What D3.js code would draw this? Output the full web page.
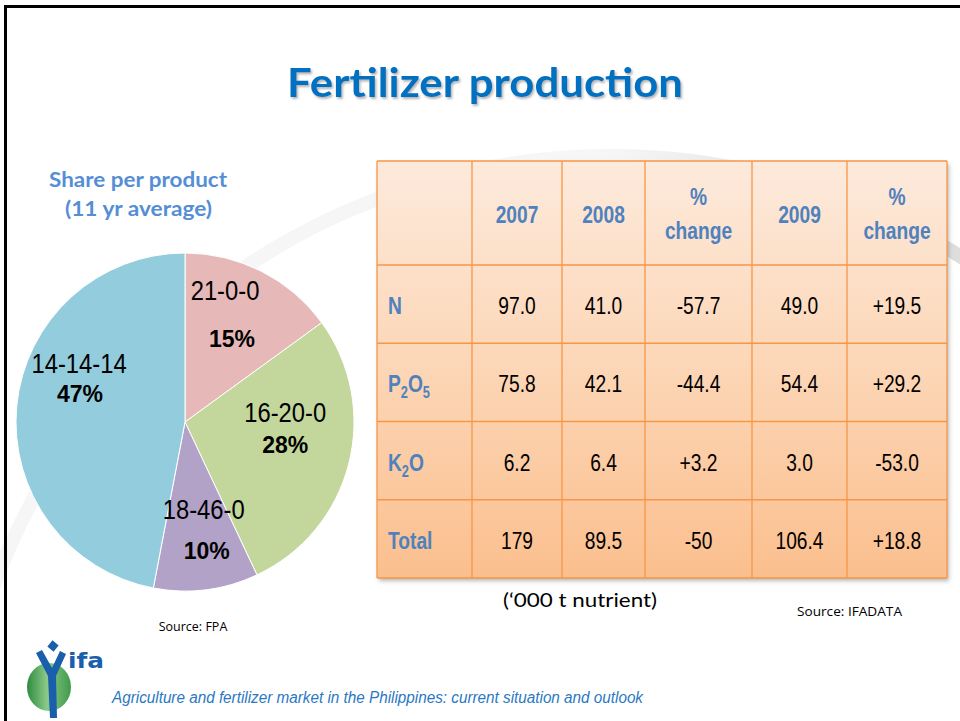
<!DOCTYPE html>
<html>
<head>
<meta charset="utf-8">
<script src="https://cdn.jsdelivr.net/npm/d3@7"></script>
<style>
  html, body { margin: 0; padding: 0; background: #fff; }
  svg { display: block; }
</style>
</head>
<body>
<svg id="slide" width="960" height="721"></svg>
<script>
// share per product, 11 yr average (%)
const products = ['21-0-0', '16-20-0', '18-46-0', '14-14-14'];
const shares = [15, 28, 10, 47];

// production table ('000 t nutrient)
const headers = ['2007', '2008', '% change', '2009', '% change'];
const nutrients = ['N', 'P2O5', 'K2O', 'Total'];
const prod2007 = ['97.0', '75.8', '6.2', '179'];
const prod2008 = ['41.0', '42.1', '6.4', '89.5'];
const change0708 = ['-57.7', '-44.4', '+3.2', '-50'];
const prod2009 = ['49.0', '54.4', '3.0', '106.4'];
const change0809 = ['+19.5', '+29.2', '-53.0', '+18.8'];

const svg = d3.select('#slide');
const defs = svg.append('defs');

/* defs: gradients + shadows */
const arcGrad = defs.append('linearGradient').attr('id', 'arcGrad')
  .attr('gradientUnits', 'userSpaceOnUse').attr('x1', 0).attr('y1', 0).attr('x2', 960).attr('y2', 0);
[[0, '#f6f6f6'], [0.25, '#dedede'], [0.6, '#dcdcdc'], [1, '#e6e8f1']].forEach(s =>
  arcGrad.append('stop').attr('offset', s[0]).attr('stop-color', s[1]));

const tblGrad = defs.append('linearGradient').attr('id', 'tblGrad')
  .attr('x1', 0).attr('y1', 0).attr('x2', 0).attr('y2', 1);
[[0, '#fdeadc'], [0.5, '#fcd6b6'], [1, '#fbbf8e']].forEach(s =>
  tblGrad.append('stop').attr('offset', s[0]).attr('stop-color', s[1]));

const greenGrad = defs.append('linearGradient').attr('id', 'greenGrad')
  .attr('x1', 0).attr('y1', 0).attr('x2', 1).attr('y2', 0);
[[0, '#2e8b3e'], [0.45, '#8cc98a'], [1, '#3f9a4a']].forEach(s =>
  greenGrad.append('stop').attr('offset', s[0]).attr('stop-color', s[1]));

defs.append('filter').attr('id', 'titleShadow')
  .attr('x', '-5%').attr('y', '-20%').attr('width', '110%').attr('height', '150%')
  .append('feDropShadow').attr('dx', 1.5).attr('dy', 2).attr('stdDeviation', 1)
  .attr('flood-color', '#777').attr('flood-opacity', 0.55);

defs.append('filter').attr('id', 'tblShadow')
  .attr('x', '-5%').attr('y', '-5%').attr('width', '110%').attr('height', '110%')
  .append('feDropShadow').attr('dx', 2).attr('dy', 3).attr('stdDeviation', 2)
  .attr('flood-color', '#888').attr('flood-opacity', 0.6);

/* background swoosh */
svg.append('path')
  .attr('transform', 'translate(611,814)')
  .attr('d', d3.arc()({ innerRadius: 651, outerRadius: 665, startAngle: -1.29, endAngle: 0.72 }))
  .attr('fill', 'url(#arcGrad)');

/* slide frame */
svg.append('path').attr('d', 'M5.5,721 V6.5 H960')
  .attr('fill', 'none').attr('stroke', '#000').attr('stroke-width', 3);

/* title */
svg.append('text')
  .attr('x', 287).attr('y', 97)
  .attr('textLength', 396).attr('lengthAdjust', 'spacingAndGlyphs')
  .attr('font-family', 'Lato, "Open Sans", sans-serif').attr('font-weight', 700)
  .attr('font-size', '40px').attr('fill', '#0070c0')
  .attr('filter', 'url(#titleShadow)')
  .text('Fertilizer production');

/* ---------- pie ---------- */
const pieData = products.map((p, i) => ({ product: p, share: shares[i] }));
const cx = 185, cy = 422, R = 169;
const color = d3.scaleOrdinal().domain(products)
  .range(['#e6b9b8', '#c3d69b', '#b3a2c7', '#93cddd']);

svg.append('text')
  .attr('x', 49).attr('y', 187)
  .attr('textLength', 178).attr('lengthAdjust', 'spacingAndGlyphs')
  .attr('font-family', 'Lato, sans-serif').attr('font-weight', 700)
  .attr('font-size', '20px').attr('fill', '#558ed5')
  .text('Share per product');
svg.append('text')
  .attr('x', 65).attr('y', 216)
  .attr('textLength', 147).attr('lengthAdjust', 'spacingAndGlyphs')
  .attr('font-family', 'Lato, sans-serif').attr('font-weight', 700)
  .attr('font-size', '20px').attr('fill', '#558ed5')
  .text('(11 yr average)');

const pie = d3.pie().sort(null).value(d => d.share);
const arc = d3.arc().innerRadius(0).outerRadius(R);
const labelArc = d3.arc().innerRadius(R * 0.6).outerRadius(R * 0.6);
const arcs = pie(pieData);

const gPie = svg.append('g').attr('transform', `translate(${cx},${cy})`);
gPie.selectAll('path.slice')
  .data(arcs).join('path')
  .attr('class', 'slice')
  .attr('d', arc)
  .attr('fill', d => color(d.data.product))
  .attr('stroke', '#fff').attr('stroke-width', 1);

// label nudges relative to slice centroid: [dxName, dyName, dxPct, dyPct]
const nudge = [[-6, -32, 1, 15], [2, -25, 2, 6], [6, -4, 9, 36], [-5, -39, -4, -10]];
arcs.forEach((d, i) => {
  const [x, y] = labelArc.centroid(d);
  const n = nudge[i];
  gPie.append('text')
    .attr('transform', `translate(${x + n[0]},${y + n[1]}) scale(0.88,1)`)
    .attr('text-anchor', 'middle')
    .attr('font-family', '"Liberation Sans", Arial, sans-serif')
    .attr('font-size', '27px').attr('fill', '#000')
    .text(d.data.product);
  gPie.append('text')
    .attr('x', x + n[2]).attr('y', y + n[3])
    .attr('text-anchor', 'middle')
    .attr('font-family', '"Liberation Sans", Arial, sans-serif')
    .attr('font-weight', 700).attr('font-size', '23px').attr('fill', '#000')
    .text(d.data.share + '%');
});

svg.append('text')
  .attr('x', 193).attr('y', 631).attr('text-anchor', 'middle')
  .attr('font-family', '"Open Sans", sans-serif').attr('font-size', '12.5px').attr('fill', '#000')
  .text('Source: FPA');

/* ---------- table ---------- */
const colKeys = ['label', 'c2007', 'c2008', 'chg1', 'c2009', 'chg2'];
const colEdges = [377, 472, 562, 645, 752, 847, 947];
const colLeft = d3.scaleOrdinal().domain(colKeys).range(colEdges.slice(0, 6));
const colRight = d3.scaleOrdinal().domain(colKeys).range(colEdges.slice(1));
const colMid = k => (colLeft(k) + colRight(k)) / 2;

const tblTop = 161, headH = 104, tblBottom = 578;
const rowY = d3.scaleBand().domain(nutrients).range([tblTop + headH, tblBottom]).padding(0);

const gT = svg.append('g');
gT.append('rect')
  .attr('x', colEdges[0]).attr('y', tblTop)
  .attr('width', colEdges[6] - colEdges[0]).attr('height', tblBottom - tblTop)
  .attr('fill', 'url(#tblGrad)')
  .attr('filter', 'url(#tblShadow)');

// grid lines
const lineColor = '#f79646';
gT.selectAll('line.v')
  .data(colEdges).join('line')
  .attr('x1', d => d).attr('x2', d => d)
  .attr('y1', tblTop).attr('y2', tblBottom)
  .attr('stroke', lineColor).attr('stroke-width', 1.3);
gT.selectAll('line.h')
  .data([tblTop].concat(nutrients.map(n => rowY(n))).concat([tblBottom])).join('line')
  .attr('class', 'h')
  .attr('x1', colEdges[0]).attr('x2', colEdges[6])
  .attr('y1', d => d).attr('y2', d => d)
  .attr('stroke', lineColor).attr('stroke-width', 1.3);

const narrow = '"Liberation Sans", Arial, sans-serif';
const headBlue = '#4f81bd';
const headMid = tblTop + headH / 2;

// header
headers.forEach((h, i) => {
  const k = colKeys[i + 1];
  if (h.startsWith('%')) {
    ['%', 'change'].forEach((t, j) => {
      gT.append('text')
        .attr('transform', `translate(${colMid(k)},${j === 0 ? headMid - 8 : headMid + 26}) scale(0.8,1)`)
        .attr('text-anchor', 'middle')
        .attr('font-family', narrow).attr('font-weight', 700)
        .attr('font-size', '24px').attr('fill', headBlue)
        .text(t);
    });
  } else {
    gT.append('text')
      .attr('transform', `translate(${colMid(k)},${headMid + 10}) scale(0.8,1)`)
      .attr('text-anchor', 'middle')
      .attr('font-family', narrow).attr('font-weight', 700)
      .attr('font-size', '24px').attr('fill', headBlue)
      .text(h);
  }
});

// row labels with subscripts
nutrients.forEach(n => {
  const y = rowY(n) + rowY.bandwidth() / 2 + 10;
  const t = gT.append('text')
    .attr('transform', `translate(${colLeft('label') + 11},${y}) scale(0.8,1)`)
    .attr('font-family', narrow).attr('font-weight', 700)
    .attr('font-size', '24px').attr('fill', headBlue);
  const parts = n.match(/[A-Za-z]+|\d/g);
  let sub = false;
  parts.forEach(p => {
    const isDigit = /\d/.test(p);
    const ts = t.append('tspan').text(p);
    if (isDigit && !sub) { ts.attr('dy', 6).attr('font-size', '16px'); sub = true; }
    else if (!isDigit && sub) { ts.attr('dy', -6); sub = false; }
    else if (isDigit) ts.attr('font-size', '16px');
  });
});

// values
const cols = [prod2007, prod2008, change0708, prod2009, change0809];
cols.forEach((vals, ci) => {
  const k = colKeys[ci + 1];
  gT.selectAll(null)
    .data(vals.map((v, ri) => ({ v, n: nutrients[ri] }))).join('text')
    .attr('transform', d => `translate(${colMid(k)},${rowY(d.n) + rowY.bandwidth() / 2 + 10}) scale(0.8,1)`)
    .attr('text-anchor', 'middle')
    .attr('font-family', narrow).attr('font-size', '24px').attr('fill', '#000')
    .text(d => d.v);
});

svg.append('text')
  .attr('x', 503).attr('y', 607)
  .attr('textLength', 154).attr('lengthAdjust', 'spacingAndGlyphs')
  .attr('font-family', 'Lato, "Open Sans", sans-serif').attr('font-size', '20px').attr('fill', '#000')
  .text('(\u2018000 t nutrient)');

svg.append('text')
  .attr('x', 797).attr('y', 616)
  .attr('textLength', 105).attr('lengthAdjust', 'spacingAndGlyphs')
  .attr('font-family', '"Open Sans", sans-serif').attr('font-size', '12.5px').attr('fill', '#000')
  .text('Source: IFADATA');

/* ---------- footer: logo + caption ---------- */
const logo = svg.append('g');
logo.append('ellipse')
  .attr('cx', 49).attr('cy', 687).attr('rx', 22).attr('ry', 24)
  .attr('fill', 'url(#greenGrad)');
logo.append('path')
  .attr('d', 'M36,653 L42,650 L52,668 L60,651 L66,654 L56,676 L57,718 L50,718 L48,676 Z')
  .attr('fill', '#1a5fab');
logo.append('rect')
  .attr('x', 49).attr('y', 642).attr('width', 8).attr('height', 8)
  .attr('transform', 'rotate(40,53,646)')
  .attr('fill', '#1a5fab');
logo.append('text')
  .attr('x', 68).attr('y', 668)
  .attr('textLength', 36).attr('lengthAdjust', 'spacingAndGlyphs')
  .attr('font-family', '"DejaVu Sans", sans-serif').attr('font-weight', 700)
  .attr('font-size', '21px').attr('fill', '#1a5fab')
  .text('ifa');

svg.append('text')
  .attr('x', 112).attr('y', 703)
  .attr('textLength', 531).attr('lengthAdjust', 'spacingAndGlyphs')
  .attr('font-family', '"Liberation Sans", Arial, sans-serif').attr('font-style', 'italic')
  .attr('font-size', '16px').attr('fill', '#2a78c2')
  .text('Agriculture and fertilizer market in the Philippines: current situation and outlook');
</script>
</body>
</html>
